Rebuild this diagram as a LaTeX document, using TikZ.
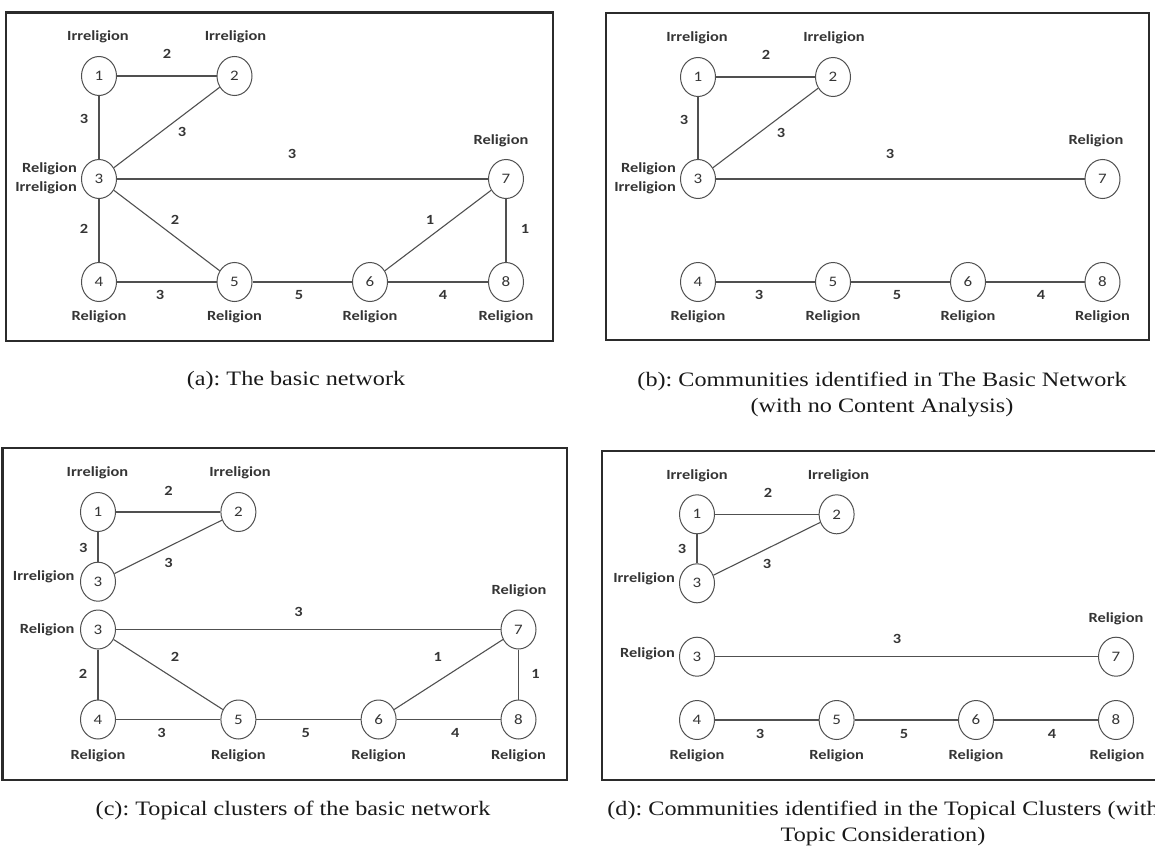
\documentclass[tikz,border=0pt]{standalone}
\usepackage{fontspec}
\newfontfamily\carl{Carlito}[FakeStretch=1.17]
\newfontfamily\capfont{Liberation Serif}[FakeStretch=1.18]
\usetikzlibrary{shapes.geometric}
\definecolor{edgec}{HTML}{505050}
\definecolor{txtc}{HTML}{353535}
\definecolor{framec}{HTML}{2B2B2B}
\tikzset{
 nd/.style={ellipse, draw=edgec, line width=1pt, minimum width=35pt, minimum height=39pt, inner sep=0pt, font=\carl\fontsize{14.5}{15}\selectfont, text=txtc},
 lab/.style={font=\carl\bfseries\fontsize{14}{19}\selectfont, text=txtc, inner sep=0pt},
 wt/.style={font=\carl\bfseries\fontsize{14}{19}\selectfont, text=txtc, inner sep=0pt},
 conn/.style={draw=edgec, line width=1.1pt},
 frame/.style={draw=framec, line width=2.3pt},
 capt/.style={font=\capfont\fontsize{20.5}{26}\selectfont, align=center, inner sep=0pt, text=black!90},
}
\frenchspacing
\begin{document}
\begin{tikzpicture}[x=1pt,y=-1pt]
\useasboundingbox (0,0) rectangle (1155,864);
% ---------------- (a)
\draw[frame] (6,12.5) rectangle (553,341);
\node[nd] (a1) at (99,76) {1};
\node[nd] (a2) at (234.5,76) {2};
\node[nd] (a3) at (99,179) {3};
\node[nd] (a7) at (506,179) {7};
\node[nd] (a4) at (99,282) {4};
\node[nd] (a5) at (234.5,282) {5};
\node[nd] (a6) at (370,282) {6};
\node[nd] (a8) at (506,282) {8};
\draw[conn] (a1) -- (a2);
\draw[conn] (a1) -- (a3);
\draw[conn] (a2) -- (a3);
\draw[conn] (a3) -- (a7);
\draw[conn] (a3) -- (a4);
\draw[conn] (a3) -- (a5);
\draw[conn] (a4) -- (a5);
\draw[conn] (a5) -- (a6);
\draw[conn] (a6) -- (a8);
\draw[conn] (a6) -- (a7);
\draw[conn] (a7) -- (a8);
\node[lab] (al1) at (98,37) {Irreligion};
\node[lab] (al2) at (235.5,37) {Irreligion};
\node[lab] (al7) at (501,141) {Religion};
\node[lab, align=right, anchor=east] (al3) at (77,178) {Religion\\Irreligion};
\node[lab] (al4) at (99,317) {Religion};
\node[lab] (al5) at (234.5,317) {Religion};
\node[lab] (al6) at (370,317) {Religion};
\node[lab] (al8) at (506,317) {Religion};
\node[wt] (aw12) at (167,54) {2};
\node[wt] (aw13) at (84,119) {3};
\node[wt] (aw23) at (182,132) {3};
\node[wt] (aw37) at (292,154) {3};
\node[wt] (aw35) at (175,220) {2};
\node[wt] (aw34) at (84,229) {2};
\node[wt] (aw67) at (430,220) {1};
\node[wt] (aw78) at (525,229) {1};
\node[wt] (aw45) at (160,295) {3};
\node[wt] (aw56) at (299,295) {5};
\node[wt] (aw68) at (443,295) {4};
% ---------------- (b)
\draw[frame] (606,12.7) rectangle (1149,340);
\node[nd] (b1) at (698,77) {1};
\node[nd] (b2) at (833,77) {2};
\node[nd] (b3) at (698,179) {3};
\node[nd] (b7) at (1102.5,179) {7};
\node[nd] (b4) at (698,282) {4};
\node[nd] (b5) at (833,282) {5};
\node[nd] (b6) at (968,282) {6};
\node[nd] (b8) at (1102.5,282) {8};
\draw[conn] (b1) -- (b2);
\draw[conn] (b1) -- (b3);
\draw[conn] (b2) -- (b3);
\draw[conn] (b3) -- (b7);
\draw[conn] (b4) -- (b5);
\draw[conn] (b5) -- (b6);
\draw[conn] (b6) -- (b8);
\node[lab] (bl1) at (697,38) {Irreligion};
\node[lab] (bl2) at (834,38) {Irreligion};
\node[lab] (bl7) at (1096,141) {Religion};
\node[lab, align=right, anchor=east] (bl3) at (676,178) {Religion\\Irreligion};
\node[lab] (bl4) at (698,317) {Religion};
\node[lab] (bl5) at (833,317) {Religion};
\node[lab] (bl6) at (968,317) {Religion};
\node[lab] (bl8) at (1102.5,317) {Religion};
\node[wt] (bw12) at (766,55) {2};
\node[wt] (bw13) at (684,120) {3};
\node[wt] (bw23) at (781,133) {3};
\node[wt] (bw37) at (890,154) {3};
\node[wt] (bw45) at (759,295) {3};
\node[wt] (bw56) at (897,295) {5};
\node[wt] (bw68) at (1041,295) {4};
% ---------------- (c)
\draw[frame] (2.5,447.7) rectangle (567,780);
\node[nd] (c1) at (98,512) {1};
\node[nd] (c2) at (238.4,512) {2};
\node[nd] (c3u) at (98,581.7) {3};
\node[nd] (c3) at (98,629.5) {3};
\node[nd] (c7) at (518.5,629.5) {7};
\node[nd] (c4) at (98,719.5) {4};
\node[nd] (c5) at (238.4,719.5) {5};
\node[nd] (c6) at (378.6,719.5) {6};
\node[nd] (c8) at (518.5,719.5) {8};
\draw[conn] (c1) -- (c2);
\draw[conn] (c1) -- (c3u);
\draw[conn] (c2) -- (c3u);
\draw[conn] (c3) -- (c7);
\draw[conn] (c3) -- (c4);
\draw[conn] (c3) -- (c5);
\draw[conn] (c4) -- (c5);
\draw[conn] (c5) -- (c6);
\draw[conn] (c6) -- (c8);
\draw[conn] (c6) -- (c7);
\draw[conn] (c7) -- (c8);
\node[lab] (cl1) at (97.5,473) {Irreligion};
\node[lab] (cl2) at (240,473) {Irreligion};
\node[lab, anchor=east] (cl3u) at (74.7,577) {Irreligion};
\node[lab, anchor=east] (cl3) at (74.7,630) {Religion};
\node[lab] (cl7) at (519,591) {Religion};
\node[lab] (cl4) at (98,755.5) {Religion};
\node[lab] (cl5) at (238.4,755.5) {Religion};
\node[lab] (cl6) at (378.6,755.5) {Religion};
\node[lab] (cl8) at (518.5,755.5) {Religion};
\node[wt] (cw12) at (168.6,490.7) {2};
\node[wt] (cw13) at (83.2,547.7) {3};
\node[wt] (cw23) at (168.6,562.7) {3};
\node[wt] (cw37) at (298.6,611.7) {3};
\node[wt] (cw35) at (175,657) {2};
\node[wt] (cw34) at (83,674) {2};
\node[wt] (cw67) at (437.7,657) {1};
\node[wt] (cw78) at (535.6,674) {1};
\node[wt] (cw45) at (161.5,733) {3};
\node[wt] (cw56) at (305.7,733) {5};
\node[wt] (cw68) at (455.2,733) {4};
% ---------------- (d)
\draw[frame] (602,450.7) rectangle (1170,780);
\node[nd] (d1) at (697,514.3) {1};
\node[nd] (d2) at (836.6,514.3) {2};
\node[nd] (d3u) at (697,583.3) {3};
\node[nd] (d3) at (697,656.7) {3};
\node[nd] (d7) at (1116,656.7) {7};
\node[nd] (d4) at (697,720) {4};
\node[nd] (d5) at (836.6,720) {5};
\node[nd] (d6) at (976,720) {6};
\node[nd] (d8) at (1116,720) {8};
\draw[conn] (d1) -- (d2);
\draw[conn] (d1) -- (d3u);
\draw[conn] (d2) -- (d3u);
\draw[conn] (d3) -- (d7);
\draw[conn] (d4) -- (d5);
\draw[conn] (d5) -- (d6);
\draw[conn] (d6) -- (d8);
\node[lab] (dl1) at (697,475.7) {Irreligion};
\node[lab] (dl2) at (838.5,475.7) {Irreligion};
\node[lab, anchor=east] (dl3u) at (675,579) {Irreligion};
\node[lab, anchor=east] (dl3) at (675,654) {Religion};
\node[lab] (dl7) at (1116,619) {Religion};
\node[lab] (dl4) at (697,756) {Religion};
\node[lab] (dl5) at (836.6,756) {Religion};
\node[lab] (dl6) at (976,756) {Religion};
\node[lab] (dl8) at (1117,756) {Religion};
\node[wt] (dw12) at (768,492.7) {2};
\node[wt] (dw13) at (682,549) {3};
\node[wt] (dw23) at (767,564) {3};
\node[wt] (dw37) at (897,639) {3};
\node[wt] (dw45) at (760,734) {3};
\node[wt] (dw56) at (904,734) {5};
\node[wt] (dw68) at (1052,734) {4};
% ---------------- captions
\node[capt] (capa) at (296,381) {(a): The basic network};
\node[capt] (capb) at (882,394) {(b): Communities identified in The Basic Network\\(with no Content Analysis)};
\node[capt] (capc) at (293,810) {(c): Topical clusters of the basic network};
\node[capt] (capd) at (883,823) {(d): Communities identified in the Topical Clusters (with\\Topic Consideration)};
\end{tikzpicture}
\end{document}
